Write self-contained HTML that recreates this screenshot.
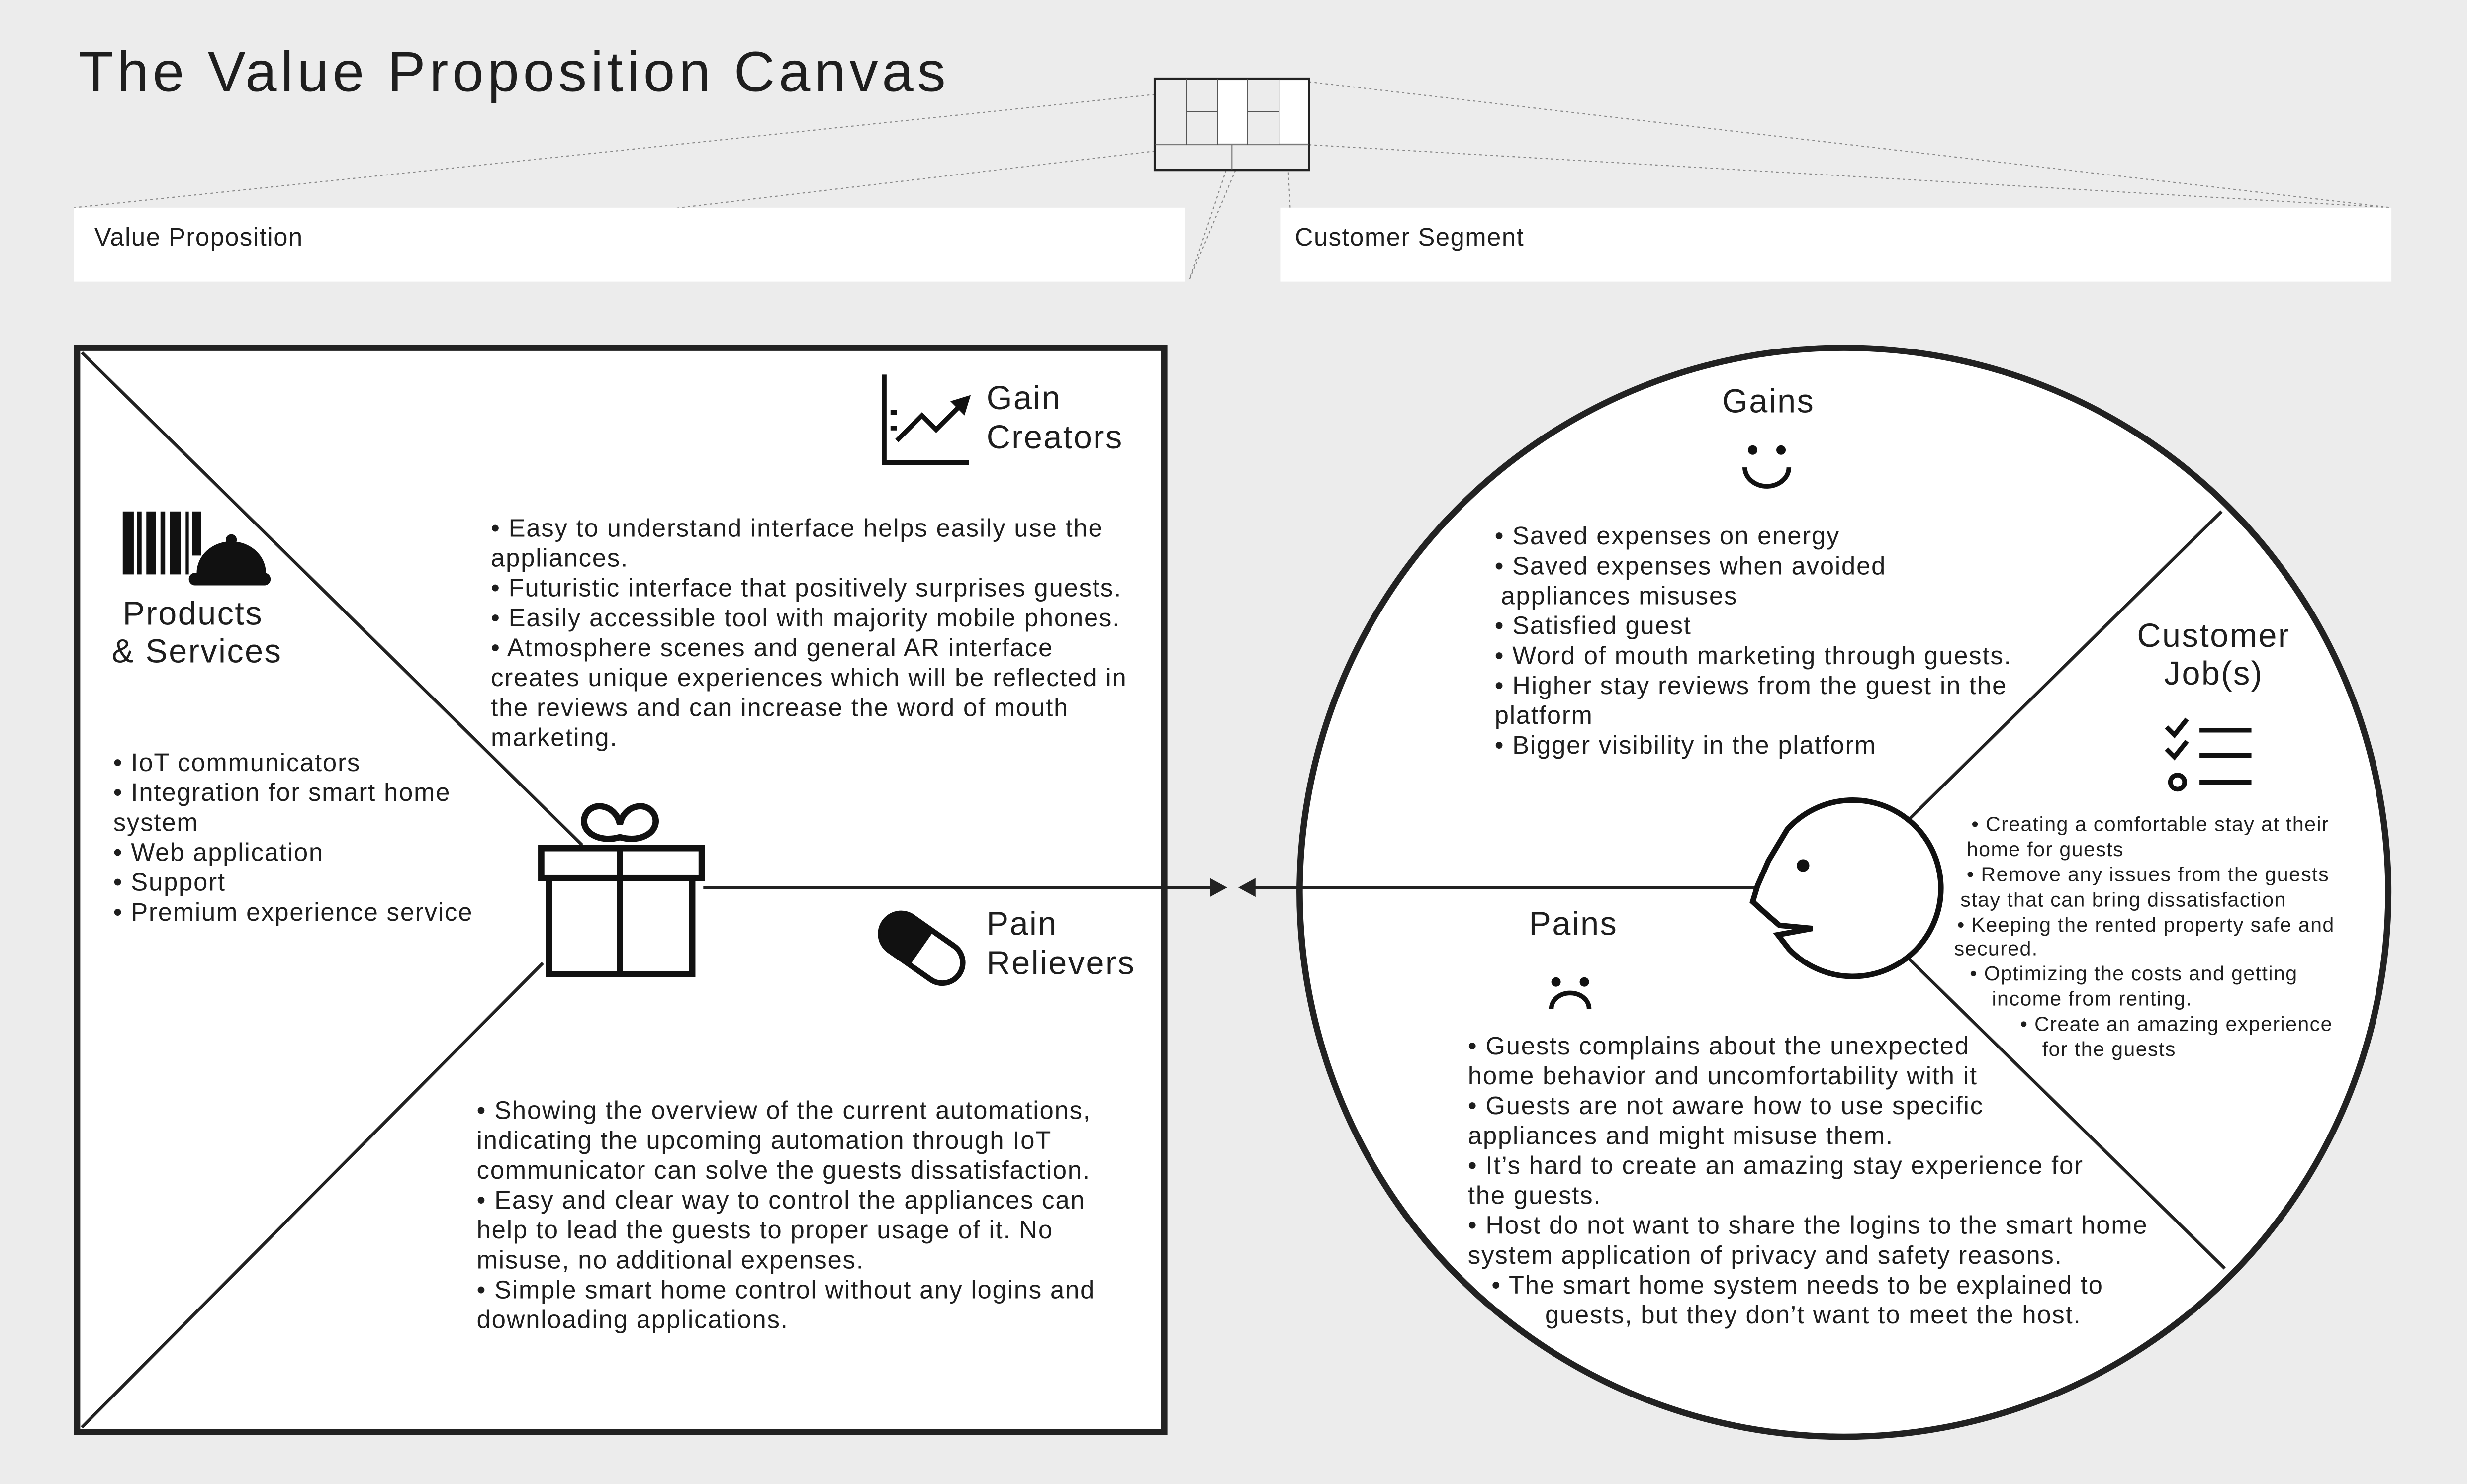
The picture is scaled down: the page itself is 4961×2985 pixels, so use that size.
<!DOCTYPE html>
<html><head><meta charset="utf-8"><style>
html,body{margin:0;padding:0;background:#ececec}
svg{display:block}
text{font-family:"Liberation Sans",sans-serif;fill:#1e1e1e}
.b{font-size:16px;letter-spacing:0.6px}
.s{font-size:13px;letter-spacing:0.45px}
.h{font-size:21px;letter-spacing:0.8px}
</style></head><body>
<svg width="4961" height="2985" viewBox="0 0 1568 943" preserveAspectRatio="none" xmlns="http://www.w3.org/2000/svg">
<rect width="1568" height="943" fill="#ececec"/>
<text x="50" y="58" style="font-size:36px;letter-spacing:2.5px">The Value Proposition Canvas</text>
<g stroke="#888" stroke-width="0.7" stroke-dasharray="1.5,2" fill="none">
<line x1="734" y1="60" x2="47" y2="132"/><line x1="734" y1="96" x2="47" y2="178"/>
<line x1="832" y1="52" x2="1520" y2="132"/><line x1="832" y1="92" x2="1520" y2="132"/>
<line x1="797" y1="55" x2="756" y2="178"/><line x1="792" y1="92" x2="756" y2="178"/>
<line x1="818" y1="92" x2="820" y2="132"/>
</g>
<rect x="734" y="50" width="98" height="58" fill="#ececec" stroke="#222" stroke-width="1.5"/>
<rect x="774" y="51" width="19" height="40" fill="#fff"/><rect x="813" y="51" width="18.5" height="40" fill="#fff"/>
<g stroke="#555" stroke-width="0.6">
<line x1="754" y1="50" x2="754" y2="92"/><line x1="774" y1="50" x2="774" y2="92"/><line x1="793" y1="50" x2="793" y2="92"/><line x1="813" y1="50" x2="813" y2="92"/>
<line x1="734" y1="92" x2="832" y2="92"/><line x1="783" y1="92" x2="783" y2="108"/>
<line x1="754" y1="71" x2="774" y2="71"/><line x1="793" y1="71" x2="813" y2="71"/>
</g>
<rect x="47" y="132" width="706" height="47" fill="#fff"/>
<rect x="814" y="132" width="706" height="47" fill="#fff"/>
<text x="60" y="156" style="font-size:16px;letter-spacing:0.5px">Value Proposition</text>
<text x="823" y="156" style="font-size:16px;letter-spacing:0.5px">Customer Segment</text>
<rect x="49" y="221" width="691" height="689" fill="#fff" stroke="#222" stroke-width="4"/>
<circle cx="1172" cy="567" r="346" fill="#fff" stroke="#222" stroke-width="4"/>
<g stroke="#222" stroke-width="2"><line x1="52" y1="224" x2="370" y2="537"/><line x1="345" y1="612" x2="52" y2="907"/>
<line x1="447" y1="564" x2="772" y2="564"/><line x1="796" y1="564" x2="1115" y2="564"/>
<line x1="1213" y1="521" x2="1412" y2="325"/><line x1="1213" y1="609" x2="1414" y2="806"/></g>
<polygon points="780,564 769,558 769,570" fill="#222"/><polygon points="787,564 798,558 798,570" fill="#222"/>
<g stroke="#111" stroke-width="4" fill="#fff">
<rect x="344" y="539" width="102" height="19"/><rect x="349" y="558" width="91" height="61"/>
<line x1="394" y1="539" x2="394" y2="619"/>
<path d="M394,532 C380,536 368,528 372,518 C377,508 392,512 394,524 C396,512 411,508 416,518 C420,528 408,536 394,532Z"/>
</g>
<g fill="#111"><rect x="78" y="325" width="7" height="40"/><rect x="87" y="325" width="3" height="40"/><rect x="93" y="325" width="6" height="40"/><rect x="102" y="325" width="3" height="40"/><rect x="108" y="325" width="7" height="40"/><rect x="118" y="325" width="2" height="40"/><rect x="122" y="325" width="6" height="28"/>
<path d="M125,364 A22,20 0 0 1 169,364 Z"/><circle cx="147" cy="343" r="3.5"/><rect x="120" y="364" width="52" height="8" rx="4"/></g>
<text x="78" y="397" class="h">Products</text><text x="71" y="421" class="h">&amp; Services</text>
<g stroke="#111" stroke-width="3" fill="none"><path d="M562,238 V294 H616"/><path d="M570,280 L586,264 L595,273 L611,257"/>
<line x1="566" y1="262" x2="570" y2="262"/><line x1="566" y1="272" x2="570" y2="272"/></g>
<polygon points="617,251 604,255 613,264" fill="#111"/>
<text x="627" y="260" class="h">Gain</text><text x="627" y="285" class="h">Creators</text>
<g transform="rotate(35 585 602)"><rect x="557" y="589" width="58" height="26" rx="13" fill="#fff" stroke="#111" stroke-width="3.5"/><path d="M570,589 H586 V615 H570 A13,13 0 0 1 570,589Z" fill="#111"/></g>
<text x="627" y="594" class="h">Pain</text><text x="627" y="619" class="h">Relievers</text>
<text x="312" y="341" class="b">• Easy to understand interface helps easily use the</text>
<text x="312" y="360" class="b">appliances.</text>
<text x="312" y="379" class="b">• Futuristic interface that positively surprises guests.</text>
<text x="312" y="398" class="b">• Easily accessible tool with majority mobile phones.</text>
<text x="312" y="417" class="b">• Atmosphere scenes  and general AR interface</text>
<text x="312" y="436" class="b">creates unique experiences which will be reflected in</text>
<text x="312" y="455" class="b">the reviews and can increase the word of mouth</text>
<text x="312" y="474" class="b">marketing.</text>
<text x="72" y="490" class="b">• IoT communicators</text>
<text x="72" y="509" class="b">• Integration for smart home</text>
<text x="72" y="528" class="b">system</text>
<text x="72" y="547" class="b">• Web application</text>
<text x="72" y="566" class="b">• Support</text>
<text x="72" y="585" class="b">• Premium experience service</text>
<text x="303" y="711" class="b">• Showing the overview of the current automations,</text>
<text x="303" y="730" class="b">indicating the upcoming automation through IoT</text>
<text x="303" y="749" class="b">communicator can solve the guests dissatisfaction.</text>
<text x="303" y="768" class="b">• Easy and clear way to control the appliances can</text>
<text x="303" y="787" class="b">help to lead the guests to proper usage of it. No</text>
<text x="303" y="806" class="b">misuse, no additional expenses.</text>
<text x="303" y="825" class="b">• Simple smart home control without any logins and</text>
<text x="303" y="844" class="b">downloading applications.</text>
<path d="M1136,527 A56,56 0 1 1 1137,603 L1130,594 L1152,590 L1131,588 L1124,582 L1114,573 L1117,563 L1124,547 Z" fill="#fff" stroke="#111" stroke-width="3.5"/>
<circle cx="1146" cy="550" r="4" fill="#111"/>
<text x="1124" y="262" class="h" text-anchor="middle">Gains</text>
<circle cx="1114" cy="286" r="3" fill="#111"/><circle cx="1132" cy="286" r="3" fill="#111"/>
<path d="M1109,297 A14,12 0 0 0 1137,297" fill="none" stroke="#111" stroke-width="3"/>
<text x="1000" y="594" class="h" text-anchor="middle">Pains</text>
<circle cx="989" cy="624" r="3" fill="#111"/><circle cx="1007" cy="624" r="3" fill="#111"/>
<path d="M986,641 A12,10 0 0 1 1010,641" fill="none" stroke="#111" stroke-width="3"/>
<text x="1407" y="411" class="h" text-anchor="middle">Customer</text><text x="1407" y="435" class="h" text-anchor="middle">Job(s)</text>
<g stroke="#111" stroke-width="3" fill="none"><path d="M1377,462 L1382,467 L1390,457"/><path d="M1377,476 L1382,481 L1390,471"/><circle cx="1384" cy="497" r="4.5"/>
<line x1="1398" y1="464" x2="1431" y2="464"/><line x1="1398" y1="480" x2="1431" y2="480"/><line x1="1398" y1="497" x2="1431" y2="497"/></g>
<text x="950" y="346" class="b">• Saved expenses on energy</text>
<text x="950" y="365" class="b">• Saved expenses when avoided</text>
<text x="954" y="384" class="b">appliances misuses</text>
<text x="950" y="403" class="b">• Satisfied guest</text>
<text x="950" y="422" class="b">• Word of mouth marketing through guests.</text>
<text x="950" y="441" class="b">• Higher stay reviews from the guest in the</text>
<text x="950" y="460" class="b">platform</text>
<text x="950" y="479" class="b">• Bigger visibility in the platform</text>
<text x="1253" y="528" class="s">• Creating a comfortable stay at their</text>
<text x="1250" y="544" class="s">home for guests</text>
<text x="1250" y="560" class="s">• Remove any issues from the guests</text>
<text x="1246" y="576" class="s">stay that can bring dissatisfaction</text>
<text x="1244" y="592" class="s">• Keeping the rented property safe and</text>
<text x="1242" y="607" class="s">secured.</text>
<text x="1252" y="623" class="s">• Optimizing the costs and getting</text>
<text x="1266" y="639" class="s">income from renting.</text>
<text x="1284" y="655" class="s">• Create an amazing experience</text>
<text x="1298" y="671" class="s">for the guests</text>
<text x="933" y="670" class="b">• Guests complains about the unexpected</text>
<text x="933" y="689" class="b">home behavior and uncomfortability with it</text>
<text x="933" y="708" class="b">• Guests are not aware how to use specific</text>
<text x="933" y="727" class="b">appliances and might misuse them.</text>
<text x="933" y="746" class="b">• It’s hard to create an amazing stay experience for</text>
<text x="933" y="765" class="b">the guests.</text>
<text x="933" y="784" class="b">• Host do not want to share the logins to the smart home</text>
<text x="933" y="803" class="b">system application of privacy and safety reasons.</text>
<text x="948" y="822" class="b">• The smart home system needs to be explained to</text>
<text x="982" y="841" class="b">guests, but they don’t want to meet the host.</text>
</svg>
</body></html>
